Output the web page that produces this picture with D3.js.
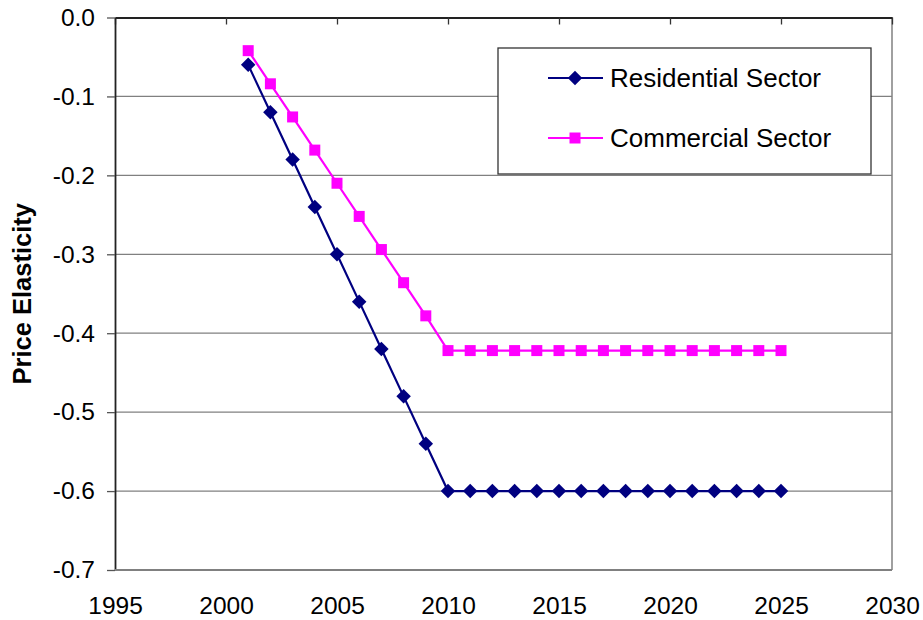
<!DOCTYPE html>
<html>
<head>
<meta charset="utf-8">
<title>Price Elasticity</title>
<script src="https://cdn.jsdelivr.net/npm/d3@7"></script>
<style>
body { margin: 0; background: #fff; }
svg { font-family: "Liberation Sans", Arial, sans-serif; }
</style>
</head>
<body>
<div id="chart"></div>
<script>
// data
var years = [2001, 2002, 2003, 2004, 2005, 2006, 2007, 2008, 2009, 2010, 2011, 2012, 2013,
             2014, 2015, 2016, 2017, 2018, 2019, 2020, 2021, 2022, 2023, 2024, 2025];
var residential = [-0.06, -0.12, -0.18, -0.24, -0.30, -0.36, -0.42, -0.48, -0.54,
                   -0.60, -0.60, -0.60, -0.60, -0.60, -0.60, -0.60, -0.60, -0.60, -0.60,
                   -0.60, -0.60, -0.60, -0.60, -0.60, -0.60];
var commercial = [-0.042, -0.084, -0.126, -0.168, -0.21, -0.252, -0.294, -0.336, -0.378,
                  -0.422, -0.422, -0.422, -0.422, -0.422, -0.422, -0.422, -0.422, -0.422, -0.422,
                  -0.422, -0.422, -0.422, -0.422, -0.422, -0.422];
var xTicks = [1995, 2000, 2005, 2010, 2015, 2020, 2025, 2030];
var yTicks = [0, -0.1, -0.2, -0.3, -0.4, -0.5, -0.6, -0.7];
var seriesNames = ["Residential Sector", "Commercial Sector"];

var width = 923, height = 620;
var pLeft = 115, pRight = 892, pTop = 17.5, pBottom = 570;

var svg = d3.select("#chart").append("svg")
    .attr("width", width)
    .attr("height", height);

var x = d3.scaleLinear().domain([1995, 2030]).range([pLeft, pRight]);
var y = d3.scaleLinear().domain([0, -0.7]).range([pTop, pBottom]);

// gridlines
svg.append("g")
  .selectAll("line")
  .data(yTicks.slice(1))
  .enter().append("line")
    .attr("x1", pLeft).attr("x2", pRight)
    .attr("y1", function(d) { return y(d); })
    .attr("y2", function(d) { return y(d); })
    .attr("stroke", "#808080")
    .attr("stroke-width", 1.3);

// right border
svg.append("line")
    .attr("x1", pRight).attr("x2", pRight)
    .attr("y1", pTop).attr("y2", pBottom)
    .attr("stroke", "#808080")
    .attr("stroke-width", 1.5);

// x axis sits at y=0 (top), ticks point inward
var xTop = svg.append("g")
    .attr("transform", "translate(0," + pTop + ")")
    .call(d3.axisBottom(x).tickValues(xTicks).tickSize(7).tickSizeOuter(0).tickFormat(""));
xTop.selectAll("line").attr("stroke", "#333").attr("stroke-width", 1.3);
xTop.select(".domain").attr("stroke", "#222").attr("stroke-width", 1.8);

// x labels at the bottom
var xBot = svg.append("g")
    .attr("transform", "translate(0," + pBottom + ")")
    .call(d3.axisBottom(x).tickValues(xTicks).tickSize(0).tickPadding(27)
      .tickFormat(function(d) { return d; }));
xBot.select(".domain").remove();
xBot.selectAll("text").attr("font-size", 24.5).attr("fill", "#000")
    .attr("font-family", "Liberation Sans, Arial, sans-serif");

// y axis
var yAx = svg.append("g")
    .attr("transform", "translate(" + pLeft + ",0)")
    .call(d3.axisLeft(y).tickValues(yTicks).tickSize(8).tickSizeOuter(0).tickPadding(12)
      .tickFormat(function(d) { return d.toFixed(1); }));
yAx.select(".domain").attr("stroke", "#222").attr("stroke-width", 1.8);
yAx.selectAll("line").attr("stroke", "#555").attr("stroke-width", 1.3);
yAx.selectAll("text").attr("font-size", 24.5).attr("fill", "#000")
    .attr("font-family", "Liberation Sans, Arial, sans-serif");

// bottom border
svg.append("line")
    .attr("x1", pLeft).attr("x2", pRight)
    .attr("y1", pBottom).attr("y2", pBottom)
    .attr("stroke", "#808080")
    .attr("stroke-width", 1.8);

// y title
svg.append("text")
    .attr("transform", "translate(31," + ((pTop + pBottom) / 2) + ") rotate(-90)")
    .attr("text-anchor", "middle")
    .attr("font-size", 25.5)
    .attr("font-weight", "bold")
    .text("Price Elasticity");

var line = d3.line()
    .x(function(d) { return x(d[0]); })
    .y(function(d) { return y(d[1]); });

var diamond = d3.symbol().type(d3.symbolSquare).size(105);
var square = d3.symbol().type(d3.symbolSquare).size(121);

function drawSeries(vals, color, sym, rot) {
  var pts = years.map(function(yr, i) { return [yr, vals[i]]; });
  svg.append("path")
    .datum(pts)
    .attr("fill", "none")
    .attr("stroke", color)
    .attr("stroke-width", 2.2)
    .attr("d", line);
  svg.append("g")
    .selectAll("path")
    .data(pts)
    .enter().append("path")
      .attr("d", sym)
      .attr("fill", color)
      .attr("transform", function(d) {
        return "translate(" + x(d[0]) + "," + y(d[1]) + ") rotate(" + rot + ")";
      });
}

drawSeries(commercial, "#ff00ff", square, 0);
drawSeries(residential, "#000080", diamond, 45);

// legend
var legend = svg.append("g");
legend.append("rect")
    .attr("x", 498).attr("y", 48)
    .attr("width", 373).attr("height", 126)
    .attr("fill", "#fff")
    .attr("stroke", "#333")
    .attr("stroke-width", 1.3);

var legendItems = [
  {name: seriesNames[0], color: "#000080", sym: diamond, rot: 45, y: 78},
  {name: seriesNames[1], color: "#ff00ff", sym: square, rot: 0, y: 138}
];
var li = legend.selectAll(".item")
    .data(legendItems)
    .enter().append("g")
    .attr("class", "item");
li.append("line")
    .attr("x1", 548).attr("x2", 603)
    .attr("y1", function(d) { return d.y; })
    .attr("y2", function(d) { return d.y; })
    .attr("stroke", function(d) { return d.color; })
    .attr("stroke-width", 2.2);
li.append("path")
    .attr("d", function(d) { return d.sym(); })
    .attr("fill", function(d) { return d.color; })
    .attr("transform", function(d) { return "translate(575," + d.y + ") rotate(" + d.rot + ")"; });
li.append("text")
    .attr("x", 610)
    .attr("y", function(d) { return d.y; })
    .attr("dy", "0.35em")
    .attr("font-size", 26)
    .text(function(d) { return d.name; });
</script>
</body>
</html>
